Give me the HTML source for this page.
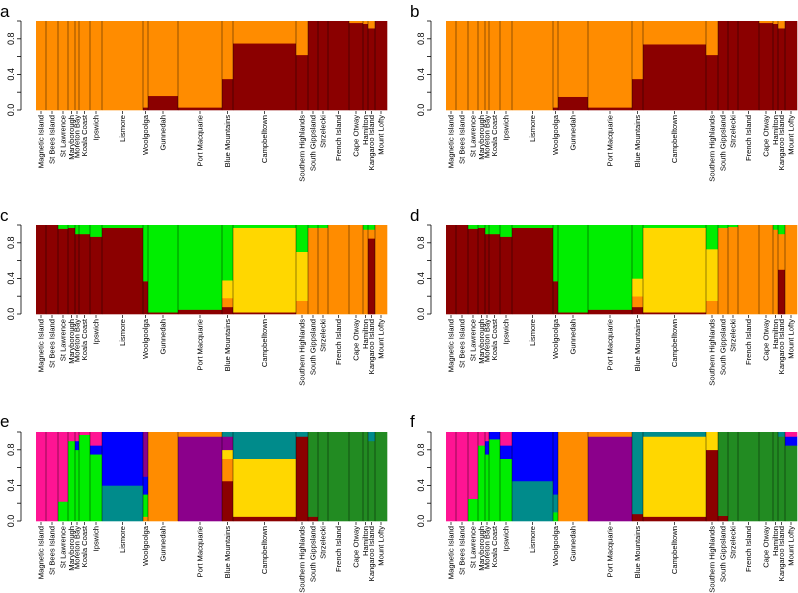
<!DOCTYPE html>
<html><head><meta charset="utf-8">
<style>
html,body{margin:0;padding:0;background:#fff;}
svg{display:block;font-family:"Liberation Sans",sans-serif;}
</style></head>
<body>
<svg id="chart" width="798" height="593" viewBox="0 0 798 593"></svg>
<script>
const populations=["Magnetic Island","St Bees Island","St Lawrence","Maryborough","Moreton Bay","Koala Coast","Ipswich","Lismore","Woolgoolga","Gunnedah","Port Macquarie","Blue Mountains","Campbelltown","Southern Highlands","South Gippsland","Strzelecki","French Island","Cape Otway","Hamilton","Kangaroo Island","Mount Lofty"];
const sampleSizes=[10,12,10,7,4,11,12,41,5,30,44,11,63,12,10,10,21,14,5,7,12];
const yTicks=[0,0.2,0.4,0.6,0.8,1.0];
const yTickLabels=["0.0","","0.4","","0.8",""];
const C={dr:"#8b0000",or:"#ff8c00",gr:"#00ee00",go:"#ffd700",bl:"#0000ff",pk:"#ff1493",pu:"#8b008b",fg:"#228b22",te:"#008b8b"};
const panelA=[[["or",1]],[["or",1]],[["or",1]],[["or",1]],[["or",1]],[["or",1]],[["or",1]],[["or",1]],[["dr",0.03],["or",0.97]],[["dr",0.16],["or",0.84]],[["dr",0.03],["or",0.97]],[["dr",0.35],["or",0.65]],[["dr",0.75],["or",0.25]],[["dr",0.62],["or",0.38]],[["dr",1]],[["dr",1]],[["dr",1]],[["dr",0.98],["or",0.02]],[["dr",0.97],["or",0.03]],[["dr",0.92],["or",0.08]],[["dr",1]]];
const panelB=[[["or",1]],[["or",1]],[["or",1]],[["or",1]],[["or",1]],[["or",1]],[["or",1]],[["or",1]],[["dr",0.03],["or",0.97]],[["dr",0.15],["or",0.85]],[["dr",0.03],["or",0.97]],[["dr",0.35],["or",0.65]],[["dr",0.74],["or",0.26]],[["dr",0.62],["or",0.38]],[["dr",1]],[["dr",1]],[["dr",1]],[["dr",0.98],["or",0.02]],[["dr",0.97],["or",0.03]],[["dr",0.92],["or",0.08]],[["dr",1]]];
const panelC=[[["dr",1]],[["dr",1]],[["dr",0.96],["gr",0.04]],[["dr",0.97],["gr",0.03]],[["dr",0.9],["gr",0.1]],[["dr",0.9],["gr",0.1]],[["dr",0.87],["gr",0.13]],[["dr",0.97],["gr",0.03]],[["dr",0.37],["gr",0.63]],[["dr",0.02],["gr",0.98]],[["dr",0.05],["gr",0.95]],[["dr",0.08],["or",0.1],["go",0.2],["gr",0.62]],[["dr",0.02],["go",0.95],["gr",0.03]],[["or",0.15],["go",0.55],["gr",0.3]],[["or",0.97],["gr",0.03]],[["or",0.97],["gr",0.03]],[["or",1]],[["or",1]],[["or",0.95],["gr",0.05]],[["dr",0.85],["or",0.1],["gr",0.05]],[["or",1]]];
const panelD=[[["dr",1]],[["dr",1]],[["dr",0.96],["gr",0.04]],[["dr",0.97],["gr",0.03]],[["dr",0.9],["gr",0.1]],[["dr",0.9],["gr",0.1]],[["dr",0.87],["gr",0.13]],[["dr",0.97],["gr",0.03]],[["dr",0.37],["gr",0.63]],[["dr",0.02],["gr",0.98]],[["dr",0.05],["gr",0.95]],[["dr",0.08],["or",0.12],["go",0.2],["gr",0.6]],[["dr",0.02],["go",0.95],["gr",0.03]],[["or",0.15],["go",0.58],["gr",0.27]],[["or",0.97],["gr",0.03]],[["or",0.98],["gr",0.02]],[["or",1]],[["or",1]],[["or",0.95],["gr",0.05]],[["dr",0.5],["or",0.4],["gr",0.1]],[["or",1]]];
const panelE=[[["pk",1]],[["pk",1]],[["gr",0.22],["pk",0.78]],[["gr",0.9],["pk",0.1]],[["gr",0.8],["bl",0.1],["pk",0.1]],[["gr",0.97],["pk",0.03]],[["gr",0.75],["bl",0.1],["pk",0.15]],[["te",0.4],["bl",0.6]],[["or",0.05],["gr",0.25],["bl",0.2],["pu",0.5]],[["or",1]],[["pu",0.95],["or",0.05]],[["dr",0.45],["or",0.25],["go",0.1],["pu",0.15],["te",0.05]],[["dr",0.05],["go",0.65],["te",0.3]],[["dr",0.95],["te",0.05]],[["dr",0.05],["fg",0.95]],[["fg",1]],[["fg",1]],[["fg",1]],[["fg",1]],[["fg",0.9],["te",0.1]],[["fg",1]]];
const panelF=[[["pk",1]],[["pk",1]],[["gr",0.25],["pk",0.75]],[["gr",0.85],["pk",0.15]],[["gr",0.75],["bl",0.15],["pk",0.1]],[["gr",0.92],["bl",0.08]],[["gr",0.7],["bl",0.15],["pk",0.15]],[["te",0.45],["bl",0.55]],[["gr",0.1],["te",0.2],["bl",0.7]],[["or",1]],[["pu",0.95],["or",0.05]],[["dr",0.08],["te",0.92]],[["dr",0.05],["go",0.9],["te",0.05]],[["dr",0.8],["go",0.2]],[["dr",0.06],["fg",0.94]],[["fg",1]],[["fg",1]],[["fg",1]],[["fg",1]],[["fg",0.95],["te",0.05]],[["fg",0.85],["bl",0.1],["pk",0.05]]];

const panels=[
 {id:"a",data:panelA,x:36,y:21,ax:21,lx:0,ly:17},
 {id:"b",data:panelB,x:446,y:21,ax:431,lx:410,ly:17},
 {id:"c",data:panelC,x:36,y:225,ax:21,lx:0,ly:221},
 {id:"d",data:panelD,x:446,y:225,ax:431,lx:410,ly:221},
 {id:"e",data:panelE,x:36,y:432,ax:21,lx:0,ly:427},
 {id:"f",data:panelF,x:446,y:432,ax:431,lx:410,ly:427}
];
const W=351,H=89;
const NS="http://www.w3.org/2000/svg";
const svg=document.getElementById("chart");
function mk(tag,attrs,parent){const e=document.createElementNS(NS,tag);for(const k in attrs)e.setAttribute(k,attrs[k]);parent.appendChild(e);return e;}
const total=sampleSizes.reduce((a,b)=>a+b,0);
panels.forEach(p=>{
  const g=mk("g",{},svg);
  
  
  const xs=n=>p.x+n/total*W;
  const ys=v=>p.y+H-v*H;
  const lt=mk("text",{x:p.lx,y:p.ly,"font-size":17,fill:"#000"},g);
  lt.textContent=p.id;
  
  
  let cum=0;
  populations.forEach((name,i)=>{
    const x0=xs(cum),x1=xs(cum+sampleSizes[i]);
    let acc=0;
    p.data[i].forEach(([k,q])=>{
      const r=mk("rect",{x:x0,y:ys(acc+q),width:x1-x0+0.3,height:q*H+0.3,fill:C[k]},g);
      
      
      acc+=q;
    });
    if(i>0){const l=mk("line",{x1:x0,x2:x0,y1:p.y,y2:p.y+H,stroke:"#000","stroke-width":0.7,"stroke-opacity":0.6},g);
      
      }
    const cx=(x0+x1)/2;
    mk("line",{x1:cx,x2:cx,y1:p.y+H+1,y2:p.y+H+4,stroke:"#000","stroke-width":0.7},g);
    const t=mk("text",{x:0,y:0,"font-size":7.6,"text-anchor":"end",transform:`translate(${cx+2.6},${p.y+H+5}) rotate(-90)`,fill:"#000"},g);
    t.textContent=name;
    
    
    cum+=sampleSizes[i];
  });
  const ax=mk("line",{x1:p.ax,x2:p.ax,y1:ys(0),y2:ys(1),stroke:"#000","stroke-width":0.8},g);
  
  
  yTicks.forEach((v,j)=>{
    mk("line",{x1:p.ax-4,x2:p.ax,y1:ys(v),y2:ys(v),stroke:"#000","stroke-width":0.8},g);
    if(yTickLabels[j]){
      const t=mk("text",{x:0,y:0,"font-size":9,"text-anchor":"middle",transform:`translate(${p.ax-7},${ys(v)}) rotate(-90)`,fill:"#000"},g);
      t.textContent=yTickLabels[j];
      
      
    }
  });
});
</script>
</body></html>
